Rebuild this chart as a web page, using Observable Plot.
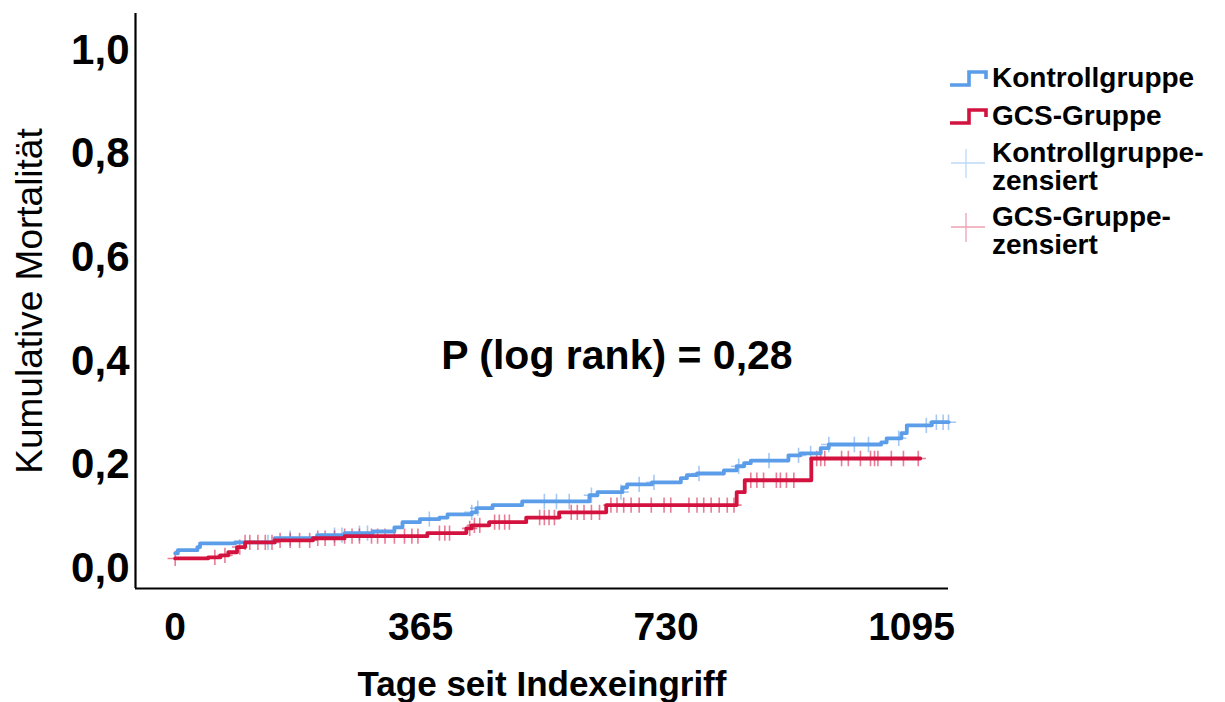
<!DOCTYPE html>
<html>
<head>
<meta charset="utf-8">
<script src="https://cdn.jsdelivr.net/npm/d3@7"></script>
<script src="https://cdn.jsdelivr.net/npm/@observablehq/plot@0.6"></script>
<style>
  body { margin: 0; background: #fff; }
  #wrap { position: relative; width: 1225px; height: 702px; font-family: "Liberation Sans", Arial, sans-serif; }
  .lg { position: absolute; font: bold 28px "Liberation Sans", Arial, sans-serif; line-height: 28px; color: #000; white-space: nowrap; }
  .sw { position: absolute; }
</style>
</head>
<body>
<div id="wrap">
  <div id="chart"></div>
</div>
<script>
// ---- Data ----
const kontrollTime = [0,4,33,37,89,148,211,252,294,326,338,364,393,405,441,448,472,516,616,628,665,672,709,752,761,776,816,835,846,856,912,930,960,972,1050,1058,1080,1088,1125,1150];
const kontrollMort = [0.029,0.035,0.041,0.048,0.050,0.058,0.064,0.068,0.071,0.079,0.089,0.095,0.098,0.104,0.108,0.116,0.122,0.129,0.141,0.147,0.156,0.162,0.166,0.174,0.180,0.183,0.189,0.197,0.203,0.208,0.218,0.222,0.232,0.239,0.243,0.251,0.261,0.276,0.282,0.282];
const gcsTime = [0,49,67,79,92,104,148,205,252,375,433,441,467,522,571,641,835,847,946,1108];
const gcsMort = [0.019,0.021,0.025,0.031,0.041,0.050,0.054,0.058,0.062,0.068,0.077,0.083,0.089,0.098,0.108,0.122,0.147,0.170,0.212,0.212];

const kontrollCensored = [138,171,237,248,274,286,378,441,450,549,567,586,619,663,690,712,779,838,883,927,945,972,1010,1031,1076,1117,1132,1142,1150];
const gcsCensored = [0,59,74,96,104,111,123,134,144,156,171,185,200,212,223,237,252,263,274,292,301,312,326,341,352,361,393,401,408,438,445,453,475,482,490,497,542,549,556,564,589,598,608,619,631,648,657,667,678,690,708,727,737,764,776,786,797,809,821,831,856,865,875,894,900,909,920,954,960,966,991,1001,1019,1034,1040,1045,1065,1083,1105];

const groups = ["Kontrollgruppe", "GCS-Gruppe"];
const colors = ["#5b9de8", "#d3123f"];
const xTicks = [0, 365, 730, 1095];
const yTicks = [0, 0.2, 0.4, 0.6, 0.8, 1.0];
const xDomain = [-59, 1150];
const yDomain = [-0.039, 1.071];
const xLabel = "Tage seit Indexeingriff";
const yLabel = "Kumulative Mortalität";
const pText = "P (log rank) = 0,28";
const pPos = {day: 657, mort: 0.411};

// ---- Build tables ----
const curves = [
  ...kontrollTime.map((t, i) => ({group: groups[0], t, m: kontrollMort[i]})),
  ...gcsTime.map((t, i) => ({group: groups[1], t, m: gcsMort[i]}))
];
function stepValue(times, vals, t) {
  const i = Math.max(0, d3.bisectRight(times, t) - 1);
  return vals[i];
}
const censored = [
  ...kontrollCensored.map(t => ({group: groups[0], t, m: stepValue(kontrollTime, kontrollMort, t)})),
  ...gcsCensored.map(t => ({group: groups[1], t, m: stepValue(gcsTime, gcsMort, t)}))
];

const fmtY = d => d.toFixed(1).replace(".", ",");

const chart = Plot.plot({
  width: 1225,
  height: 702,
  marginLeft: 135,
  marginRight: 277,
  marginTop: 13,
  marginBottom: 114,
  style: {fontFamily: "Liberation Sans, Arial, sans-serif", background: "#fff", overflow: "visible"},
  x: {domain: xDomain},
  y: {domain: yDomain},
  color: {domain: groups, range: colors},
  marks: [
    Plot.axisY({ticks: yTicks, tickFormat: fmtY, tickSize: 0, tickPadding: 6, fontSize: 42, fontWeight: "bold", label: null}),
    Plot.axisX({ticks: xTicks, tickFormat: d => String(d), tickSize: 0, tickPadding: 24, fontSize: 39, fontWeight: "bold", label: null}),
    Plot.ruleX([xDomain[0]], {stroke: "#000", strokeWidth: 2.2}),
    Plot.ruleY([yDomain[0]], {stroke: "#000", strokeWidth: 2.2}),
    Plot.text([xLabel], {frameAnchor: "bottom", dy: 96, fontSize: 35, fontWeight: "bold", lineAnchor: "middle", textAnchor: "middle", fill: "#000"}),
    Plot.text([yLabel], {frameAnchor: "left", dx: -105, rotate: -90, fontSize: 37, fontWeight: "normal", lineAnchor: "middle", textAnchor: "middle", fill: "#000"}),
    Plot.text([pText], {x: () => pPos.day, y: () => pPos.mort, fontSize: 41, fontWeight: "bold", lineAnchor: "middle", fill: "#000"}),
    Plot.dot(censored, {x: "t", y: "m", stroke: "group", symbol: "plus", r: 5, strokeWidth: 1.6, strokeOpacity: 0.55}),
    Plot.line(curves, {x: "t", y: "m", z: "group", stroke: "group", curve: "step-after", strokeWidth: 3.8})
  ]
});
document.getElementById("chart").appendChild(chart);

// ---- Legend (HTML overlay at the right) ----
const wrap = document.getElementById("wrap");
const legendItems = [
  {kind: "line", color: colors[0], lines: ["Kontrollgruppe"], top: 64},
  {kind: "line", color: colors[1], lines: ["GCS-Gruppe"], top: 102},
  {kind: "plus", color: colors[0], lines: ["Kontrollgruppe-", "zensiert"], top: 139},
  {kind: "plus", color: colors[1], lines: ["GCS-Gruppe-", "zensiert"], top: 203}
];
legendItems.forEach(it => {
  const sw = document.createElementNS("http://www.w3.org/2000/svg", "svg");
  sw.setAttribute("class", "sw");
  sw.setAttribute("width", 40);
  sw.setAttribute("height", 40);
  sw.style.left = "948px";
  if (it.kind === "line") {
    sw.style.top = (it.top + 2) + "px";
    sw.innerHTML = `<path d="M2,19 H21 V6 H38 V13" fill="none" stroke="${it.color}" stroke-width="3.6"/>`;
  } else {
    sw.style.top = (it.top + 6) + "px";
    sw.innerHTML = `<path d="M3,18 H37 M18,4 V33" fill="none" stroke="${it.color}" stroke-width="1.3" stroke-opacity="0.4"/>`;
  }
  wrap.appendChild(sw);
  const div = document.createElement("div");
  div.className = "lg";
  div.style.left = "992px";
  div.style.top = it.top + "px";
  div.innerHTML = it.lines.join("<br>");
  wrap.appendChild(div);
});
</script>
</body>
</html>
